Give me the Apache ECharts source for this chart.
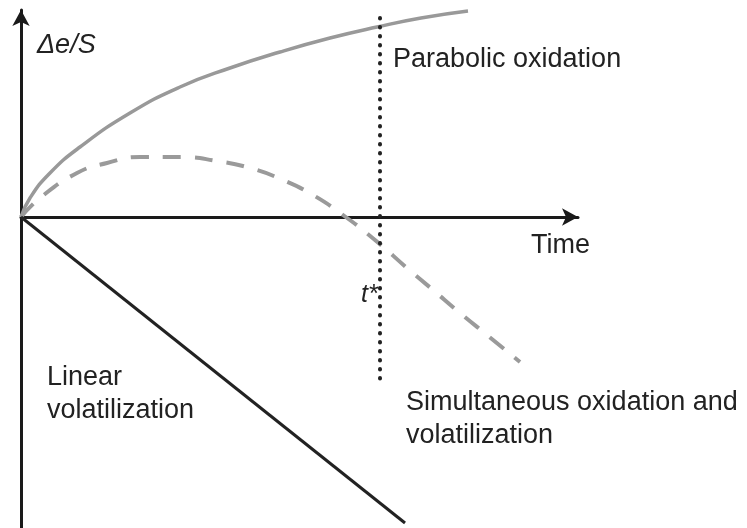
<!DOCTYPE html>
<html>
<head>
<meta charset="utf-8">
<script src="https://cdn.jsdelivr.net/npm/echarts@6/dist/echarts.min.js"></script>
<style>
  html, body { margin: 0; padding: 0; background: #fff; }
  #main { width: 747px; height: 528px; }
</style>
</head>
<body>
<div id="main"></div>
<script>
// values (time / Δe/S in arbitrary units)
var parabolic = [[0, 0], [9, 19], [29, 44], [59, 70], [109, 104], [159, 130], [209, 149], [259, 165], [309, 179], [356, 190], [400, 199], [447, 206]];
var simultaneous = [[0, 0], [19, 19], [56, 44], [86, 54], [119, 60], [161, 60], [196, 56], [229, 49], [262, 37], [292, 22], [322, 2], [354, -23], [386, -51], [412, -73], [439, -96], [466, -118], [499, -145]];
var linear = [[0, 0], [384, -306]];
var tStar = [[359, 199], [359, -168]];

var chart = echarts.init(document.getElementById('main'));

var txt = '#222';
var font = '"Liberation Sans", Arial, sans-serif';

chart.setOption({
  animation: false,
  grid: { left: 21, right: 169, top: 10, bottom: 0 },
  xAxis: {
    type: 'value', min: 0, max: 557,
    axisLine: { show: true, onZero: true, symbol: ['none', 'arrow'], symbolSize: [13, 16], lineStyle: { color: '#1a1a1a', width: 3 } },
    axisTick: { show: false }, axisLabel: { show: false }, splitLine: { show: false }
  },
  yAxis: {
    type: 'value', min: -311, max: 207,
    axisLine: { show: true, symbol: ['none', 'arrow'], symbolSize: [13, 16], lineStyle: { color: '#1a1a1a', width: 3 } },
    axisTick: { show: false }, axisLabel: { show: false }, splitLine: { show: false }
  },
  series: [
    {
      name: 'Parabolic oxidation', type: 'line', data: parabolic, smooth: true, symbol: 'none',
      lineStyle: { color: '#999', width: 3.5 }
    },
    {
      name: 'Simultaneous oxidation and volatilization', type: 'line', data: simultaneous, smooth: true, symbol: 'none',
      lineStyle: { color: '#9a9a9a', width: 4, type: [18, 14] }
    },
    {
      name: 'Linear volatilization', type: 'line', data: linear, symbol: 'none',
      lineStyle: { color: '#222', width: 3 }
    },
    {
      name: 't*', type: 'line', data: tStar, symbol: 'none', z: 5,
      lineStyle: { color: '#222', width: 4, type: [0.5, 8.5], cap: 'round' }
    }
  ],
  graphic: [
    { type: 'text', left: 37, top: 32, style: { text: 'Δe/S', font: 'italic 27px ' + font, fill: txt } },
    { type: 'text', left: 393, top: 46, style: { text: 'Parabolic oxidation', font: '27px ' + font, fill: txt } },
    { type: 'text', left: 531, top: 232, style: { text: 'Time', font: '27px ' + font, fill: txt } },
    { type: 'text', left: 361, top: 283, style: { text: 't*', font: 'italic 25px ' + font, fill: txt } },
    { type: 'text', left: 47, top: 361, style: { text: 'Linear\nvolatilization', font: '27px ' + font, lineHeight: 33, fill: txt } },
    { type: 'text', left: 406, top: 386, style: { text: 'Simultaneous oxidation and\nvolatilization', font: '27px ' + font, lineHeight: 33, fill: txt } }
  ]
});
</script>
</body>
</html>
